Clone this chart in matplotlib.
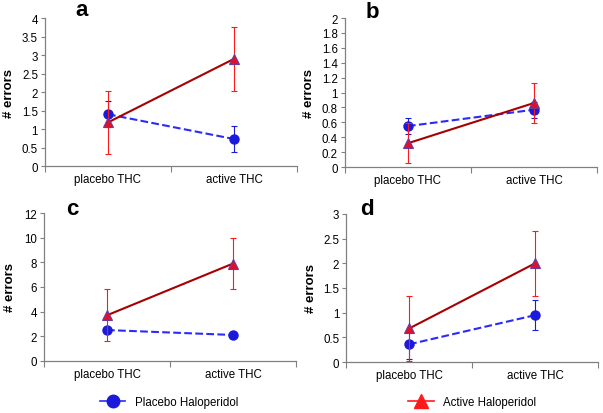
import matplotlib
matplotlib.use("Agg")
from matplotlib import pyplot as plt
from matplotlib.lines import Line2D

plt.rcParams['font.family'] = ['Liberation Sans', 'DejaVu Sans']

categories = ['placebo THC', 'active THC']
panel_letters = ['a', 'b', 'c', 'd']

# mean number of errors and error bar half-widths per panel
placebo_halo = [[1.40, 0.73], [0.55, 0.77], [2.50, 2.10], [0.36, 0.95]]
placebo_halo_err = [[0.35, 0.34], [0.11, 0.11], [0.0, 0.0], [0.30, 0.30]]
active_halo = [[1.18, 2.90], [0.32, 0.86], [3.70, 7.90], [0.68, 2.00]]
active_halo_err = [[0.86, 0.87], [0.27, 0.27], [2.10, 2.10], [0.66, 0.66]]

y_max = [4, 2, 12, 3]
y_step = [0.5, 0.2, 2, 0.5]

# axes boxes in figure fractions
boxes = [
    [0.0746, 0.5966, 0.418, 0.357],
    [0.572, 0.594, 0.418, 0.360],
    [0.073, 0.126, 0.418, 0.357],
    [0.574, 0.123, 0.418, 0.358],
]
letter_pos = [(0.135, 0.975), (0.617, 0.970), (0.120, 0.495), (0.608, 0.495)]
label_x = [-0.117, -0.117, -0.11, -0.117]

BLUE = '#1a1adc'
BLUE_LINE = '#2a2aff'
RED = '#ff1a1a'
DARK_RED = '#a80000'
FS = 8.3

fig = plt.figure(figsize=(6.03, 4.14), dpi=100)
x = [0.5, 1.5]

for i in range(4):
    ax = fig.add_axes(boxes[i])
    ax.errorbar(x, placebo_halo[i], yerr=placebo_halo_err[i], fmt='none',
                ecolor=BLUE, elinewidth=0.8, capsize=2.2, capthick=0.8, zorder=2)
    ax.plot(x, placebo_halo[i], color=BLUE_LINE, linestyle='--', linewidth=1.5,
            marker='o', markersize=6.5, markerfacecolor=BLUE, markeredgecolor=BLUE, zorder=3)
    ax.errorbar(x, active_halo[i], yerr=active_halo_err[i], fmt='none',
                ecolor=RED, elinewidth=0.8, capsize=2.2, capthick=0.8, zorder=4)
    ax.plot(x, active_halo[i], color=DARK_RED, linestyle='-', linewidth=1.5,
            marker='^', markersize=7, markerfacecolor='#e0102a', markeredgecolor='#6a3a9a',
            markeredgewidth=0.8, zorder=5)

    ax.set_xlim(0, 2)
    ax.set_ylim(0, y_max[i])
    n = int(round(y_max[i] / y_step[i]))
    yt = [k * y_step[i] for k in range(n + 1)]
    ax.set_yticks(yt)
    ax.set_yticklabels(['%g' % v for v in yt], fontsize=FS)
    ax.set_xticks([0, 1, 2])
    ax.set_xticklabels([])
    ax.set_xticks(x, minor=True)
    ax.set_xticklabels(categories, minor=True, fontsize=FS)
    ax.tick_params(axis='x', which='minor', length=0, pad=5)
    ax.tick_params(axis='x', which='major', length=4, color='#808080')
    ax.tick_params(axis='y', length=3, color='#808080', pad=2)
    for s in ['top', 'right']:
        ax.spines[s].set_visible(False)
    for s in ['left', 'bottom']:
        ax.spines[s].set_color('#808080')
        ax.spines[s].set_linewidth(0.9)
    ax.set_ylabel('# errors', fontsize=9.5, fontweight='bold')
    ax.yaxis.set_label_coords(label_x[i], 0.5)
    fig.text(letter_pos[i][0], letter_pos[i][1], panel_letters[i], fontsize=16,
             fontweight='bold', ha='center', va='center')

h_placebo = Line2D([], [], color=BLUE_LINE, linewidth=1.2, marker='o', markersize=9,
                   markerfacecolor=BLUE, markeredgecolor=BLUE)
h_active = Line2D([], [], color=RED, linewidth=1.2, marker='^', markersize=10,
                  markerfacecolor=RED, markeredgecolor=RED)
fig.legend([h_placebo], ['Placebo Haloperidol'], loc='center left',
           bbox_to_anchor=(0.166, 0.026), frameon=False, fontsize=FS,
           handlelength=2.2, handletextpad=0.8, borderpad=0, borderaxespad=0)
fig.legend([h_active], ['Active Haloperidol'], loc='center left',
           bbox_to_anchor=(0.677, 0.026), frameon=False, fontsize=FS,
           handlelength=2.2, handletextpad=0.8, borderpad=0, borderaxespad=0)

fig.savefig('out.png', dpi=100)
